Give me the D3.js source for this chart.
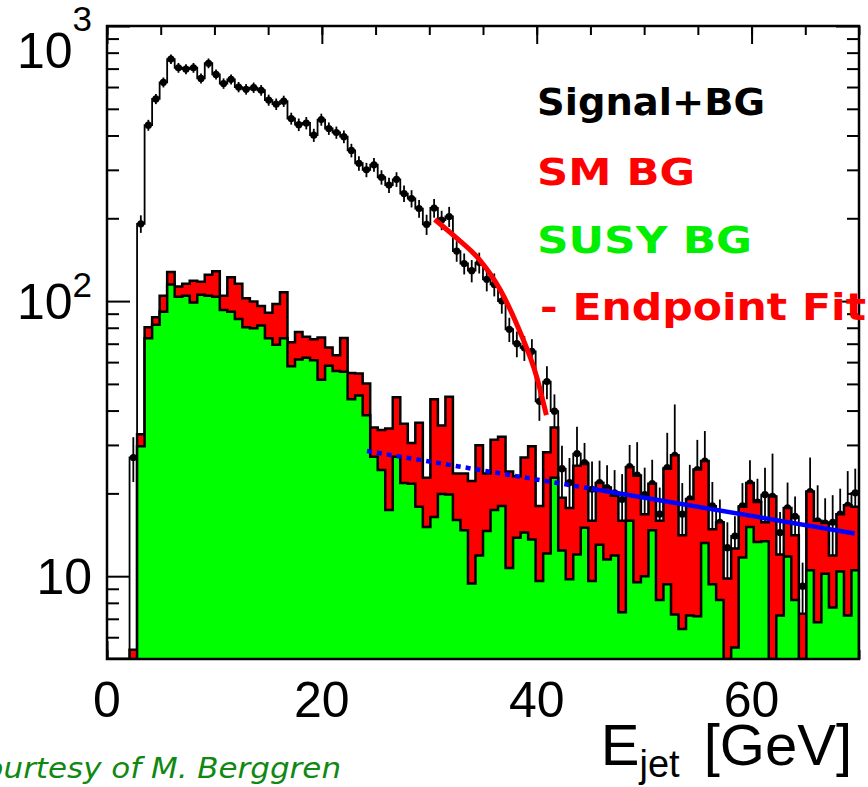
<!DOCTYPE html>
<html><head><meta charset="utf-8">
<script src="https://cdn.jsdelivr.net/npm/d3@7"></script>
<style>html,body{margin:0;padding:0;background:#fff;} svg{display:block;}</style>
</head><body>
<svg id="c" width="868" height="787"></svg>
<script>
// ---------------- data ----------------
const binWidth = 0.7;                       // GeV, 100 bins over 0-70 GeV
const binEdges = d3.range(101).map(i => +(i * binWidth).toFixed(2));

// Signal+BG (black points)
const total = [0,0,0,27,191,436,543,624,758,705,
  697,705,645,732,667,618,640,600,589,597,
  584,538,520,533,461,438,444,401,457,424,
  410,396,353,317,300,313,282,264,277,246,
  236,217,190,218,197,203,152,137,129,138,
  120,115,100,79,70,67.6,65.7,43.2,51,39.8,
  24.6,21.9,27.9,25.9,20.7,21.9,21,20.1,19,25,
  23.3,19.8,21.7,16.8,24.8,27.5,16.8,19.1,24.4,26.2,
  18,15.7,12.7,14,18,21.8,18.6,19.8,19.5,14.4,
  17.7,16.5,9.2,20.3,15.9,15.6,15.7,16.8,18.1,20.1];
const totalErr = [0,0,0,5,14,20,23,26,30,29,
  29,29,27,30,28,27,27,26,26,26,
  26,25,25,25,23,23,23,22,23,22,
  21,21,20,19,18,18,17,17,17,17,
  17,16,16,17,16,17,13,12,12,12,
  11.5,11,10,8,7.5,7,7,6.5,7,6,
  5.2,5,7,4.6,5.4,4.4,4.3,4.2,4.5,5,
  7.4,5,4.8,4.2,8.4,14.6,5,6.3,6.9,7.5,
  4,3.3,3,2.5,3.8,4.6,4,5,8.4,2.7,
  4.2,3,2,6.7,5.5,3.6,4,4,6,4.5];
// SM BG stacked on SUSY BG (red)
const smStack = [0,0,0,5.4,32.8,80.4,87.3,104.6,127.7,113,
  115.6,118.6,117.5,124.7,128.3,104.6,122.2,115.6,102.4,99.6,
  96,90.7,97.6,107.6,70.8,77.2,74.2,72.7,73.8,67.8,
  63.6,73.4,54.8,54.6,50.2,34.7,34,34.4,44.7,35.8,
  30.5,36.1,22.8,44,35.3,44.9,23.6,23.6,22.2,29.9,
  23.6,31.3,32.1,24,23.1,27,29.7,18,28.2,34.7,
  19.3,17.7,25.2,25.6,15.9,21.8,21,19.6,15.9,24.9,
  23.2,16.8,21.7,15.9,24.6,27.5,14.1,19.1,24.4,26.2,
  14.8,15.7,9.8,12.6,17.9,21.8,18.6,15.7,19.5,12,
  17.7,14.1,7.3,20.3,15.9,15.6,11.9,16.8,18.1,17.9];
// SUSY BG (green)
const susy = [0,0,0,0,29.7,73.3,82,91.5,115,103.8,
  104.6,98.9,105.4,104.6,103.8,92.9,91.5,86,80.4,79.7,
  81.5,73.3,69.4,73.3,58,61.3,62.2,61,51.8,58.2,
  55.7,55.3,44,45.4,38.5,27.2,24.3,17.4,27.2,21.8,
  21.7,17.9,15.1,16.4,19.9,19.8,16,14.7,9.4,11.9,
  14.6,17.4,18,10.7,13.8,14.4,13.6,9.6,12.1,22.8,
  12.4,9.75,12,15,9.6,13,11.5,11.9,7.4,15.9,
  9.5,10,14.7,8.2,9.35,7.25,6.43,7.2,7.15,13.2,
  9.35,8.2,0,5.5,11.7,15.1,13.3,13.4,0,7.2,
  11.8,8.2,0,10.5,6.8,10.2,7.7,10.4,7.2,10.5];
// endpoint fit (red curve)
const endpointFitX = [30.5, 32.5, 34.7, 36.6, 38.4, 40.0, 40.9];
const endpointFitY = [198, 170, 141, 110, 78, 53, 38.5];
// background fit (blue): dotted part then solid part
const bgFitX = [24.2, 45.1, 69.6];
const bgFitY = [28.5, 20.8, 14.3];

const xTickLabels = [0, 20, 40, 60];
const yTickLabels = [{v: 10, exp: ""}, {v: 100, exp: "2"}, {v: 1000, exp: "3"}];
const legendItems = [
  {text: "Signal+BG", color: "#000000", len: 228},
  {text: "SM BG", color: "#ff0000", len: 158},
  {text: "SUSY BG", color: "#00ee00", len: 215},
  {text: "- Endpoint Fit", color: "#ff0000", len: 326}
];

// ---------------- layout ----------------
const L = 107, R = 859, T = 26, B = 659;
const svg = d3.select("#c");
const x = d3.scaleLinear().domain([0, 70]).range([L, R]);
const y = d3.scaleLog().domain([5, 1000]).range([B, T]);
const yc = v => y(Math.max(v, 5));

svg.append("defs").append("clipPath").attr("id", "clip")
  .append("rect").attr("x", L).attr("y", T).attr("width", R - L).attr("height", B - T);

// ---------------- ticks ----------------
const tickStyle = g => { g.select(".domain").remove(); g.selectAll("text").remove();
  g.selectAll("line").attr("stroke", "#000").attr("stroke-width", 2); };
const xMinor = d3.range(0, 71, 5), xMajor = [0, 20, 40, 60];
svg.append("g").attr("transform", `translate(0,${B})`).call(d3.axisTop(x).tickValues(xMinor).tickSize(9)).call(tickStyle);
svg.append("g").attr("transform", `translate(0,${B})`).call(d3.axisTop(x).tickValues(xMajor).tickSize(18)).call(tickStyle);
svg.append("g").attr("transform", `translate(0,${T})`).call(d3.axisBottom(x).tickValues(xMinor).tickSize(9)).call(tickStyle);
svg.append("g").attr("transform", `translate(0,${T})`).call(d3.axisBottom(x).tickValues(xMajor).tickSize(18)).call(tickStyle);
const yMinor = [6,7,8,9,20,30,40,50,60,70,80,90,200,300,400,500,600,700,800,900];
const yMajor = [10, 100, 1000];
svg.append("g").attr("transform", `translate(${L},0)`).call(d3.axisRight(y).tickValues(yMinor).tickSize(12)).call(tickStyle);
svg.append("g").attr("transform", `translate(${L},0)`).call(d3.axisRight(y).tickValues(yMajor).tickSize(23)).call(tickStyle);
svg.append("g").attr("transform", `translate(${R},0)`).call(d3.axisLeft(y).tickValues(yMinor).tickSize(12)).call(tickStyle);
svg.append("g").attr("transform", `translate(${R},0)`).call(d3.axisLeft(y).tickValues(yMajor).tickSize(23)).call(tickStyle);

// ---------------- histograms ----------------
const plot = svg.append("g").attr("clip-path", "url(#clip)");
function stepPoints(vals) {
  const pts = [[binEdges[0], 0]];
  vals.forEach((v, i) => { pts.push([binEdges[i], v]); pts.push([binEdges[i + 1], v]); });
  pts.push([binEdges[vals.length], 0]);
  return pts;
}
const line = d3.line().x(d => x(d[0])).y(d => yc(d[1]));
const area = d3.area().x(d => x(d[0])).y0(B + 2).y1(d => yc(d[1]));

// total (black) step, error bars, markers
plot.append("path").attr("d", line(stepPoints(total)))
  .attr("fill", "none").attr("stroke", "#000").attr("stroke-width", 1.8);
const pts = total.map((v, i) => ({v, e: totalErr[i], c: (binEdges[i] + binEdges[i + 1]) / 2})).filter(d => d.v > 0);
plot.selectAll(".eb").data(pts).join("line")
  .attr("x1", d => x(d.c)).attr("x2", d => x(d.c))
  .attr("y1", d => yc(d.v - d.e)).attr("y2", d => yc(d.v + d.e))
  .attr("stroke", "#000").attr("stroke-width", 1.8);
plot.selectAll(".mk").data(pts).join("circle")
  .attr("cx", d => x(d.c)).attr("cy", d => yc(d.v)).attr("r", 3.6).attr("fill", "#000");

// SM BG (stacked, red)
plot.append("path").attr("d", area(stepPoints(smStack))).attr("fill", "#ff0000");
plot.append("path").attr("d", line(stepPoints(smStack)))
  .attr("fill", "none").attr("stroke", "#000").attr("stroke-width", 2.5);
// SUSY BG (green)
plot.append("path").attr("d", area(stepPoints(susy))).attr("fill", "#00ff00");
plot.append("path").attr("d", line(stepPoints(susy)))
  .attr("fill", "none").attr("stroke", "#000").attr("stroke-width", 2.5);

// fits
const fitLine = d3.line().x(d => x(d[0])).y(d => y(d[1]));
const epPts = endpointFitX.map((v, i) => [v, endpointFitY[i]]);
plot.append("path").attr("d", fitLine.curve(d3.curveMonotoneX)(epPts))
  .attr("fill", "none").attr("stroke", "#ff0000").attr("stroke-width", 5);
const bgPts = bgFitX.map((v, i) => [v, bgFitY[i]]);
const straight = d3.line().x(d => x(d[0])).y(d => y(d[1]));
plot.append("path").attr("d", straight(bgPts.slice(0, 2)))
  .attr("fill", "none").attr("stroke", "#0000ff").attr("stroke-width", 4.5).attr("stroke-dasharray", "5,5");
plot.append("path").attr("d", straight(bgPts.slice(1, 3)))
  .attr("fill", "none").attr("stroke", "#0000ff").attr("stroke-width", 4.5);

// frame
svg.append("rect").attr("x", L).attr("y", T).attr("width", R - L).attr("height", B - T)
  .attr("fill", "none").attr("stroke", "#000").attr("stroke-width", 2.5);

// ---------------- labels ----------------
const tickFont = "'Liberation Sans', Arial, Helvetica, sans-serif";
svg.selectAll(".xl").data(xTickLabels).join("text")
  .attr("x", d => x(d)).attr("y", 717).attr("text-anchor", "middle")
  .attr("font-family", tickFont).attr("font-size", 50).attr("fill", "#000").text(d => d);
yTickLabels.forEach(d => {
  const top = d.v === 1000;
  const base = top ? 68 : y(d.v) + 18;
  const t = svg.append("text").attr("x", 92).attr("y", base).attr("text-anchor", "end")
    .attr("font-family", tickFont).attr("font-size", 50).attr("fill", "#000");
  t.append("tspan").text("10");
  if (d.exp) t.append("tspan").attr("font-size", 35).attr("dy", top ? -37 : -22).text(d.exp);
});
const xt = svg.append("text").attr("x", 852).attr("y", 765).attr("text-anchor", "end")
  .attr("font-family", tickFont).attr("font-size", 58).attr("fill", "#000");
xt.append("tspan").text("E");
xt.append("tspan").attr("font-size", 38).attr("dy", 12).text("jet");
xt.append("tspan").attr("dy", -12).attr("dx", 8).text("\u00a0[GeV]");

svg.append("text").attr("x", 341).attr("y", 778).attr("text-anchor", "end")
  .attr("font-family", "'DejaVu Sans', sans-serif").attr("font-style", "italic")
  .attr("font-size", 29).attr("fill", "#118811")
  .attr("textLength", 378).attr("lengthAdjust", "spacingAndGlyphs")
  .text("Courtesy of M. Berggren");

// legend
const legBase = [115, 185, 253, 320];
legendItems.forEach((d, i) => {
  svg.append("text").attr("x", i === 3 ? 540 : 537).attr("y", legBase[i])
    .attr("font-family", "'DejaVu Sans', sans-serif").attr("font-weight", "bold")
    .attr("font-size", 38).attr("fill", d.color)
    .attr("textLength", d.len).attr("lengthAdjust", "spacingAndGlyphs").text(d.text);
});
</script>
</body></html>
